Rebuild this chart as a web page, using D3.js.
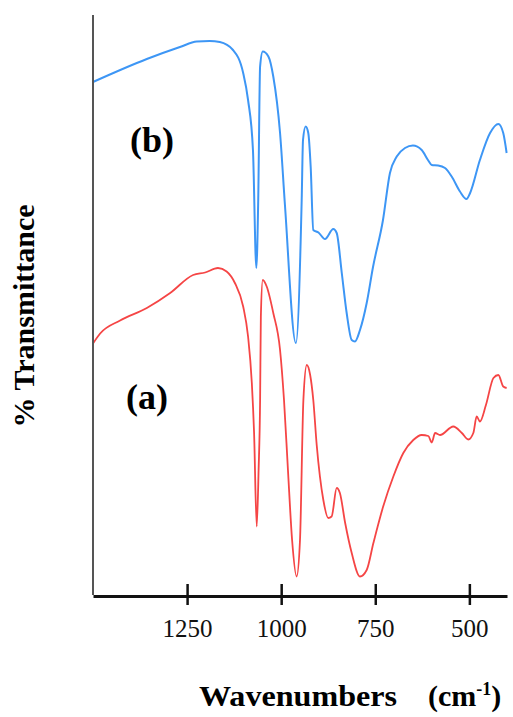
<!DOCTYPE html>
<html><head><meta charset="utf-8">
<script src="https://cdn.jsdelivr.net/npm/d3@7"></script>
<style>body{margin:0;background:#fff}svg{display:block}</style>
</head><body>
<script>
// Wavenumbers (cm-1) and transmittance (arbitrary units)
const waveB = [1500,1357,1269,1224,1190,1163,1128,1101,1088,1075,1066,1061,1056,1049,1034,1021,1003,990,961,945.5,942,935,928,921.6,914.7,901,883.6,861.5,852.5,839,826,812.6,804,790.6,772.8,756,729.5,711,693,671,650,626.6,610,600,583,564.7,547,525,507.6,498,472,445,423,410,401];
const transB = [102.6,107.2,109.6,110.7,110.8,110.6,109,104.4,99,89,65.4,79,105.7,108.7,107.7,103.7,92.4,78,50.4,79,91,93.7,92.4,85.6,73,72.5,71.2,73.2,72.4,64.4,56.4,51,50.7,53,58.4,65.6,75,84.4,87.7,89.4,89.9,89,87,86,85.9,85.4,83.7,80.7,79.2,80.4,87,92.4,94.2,92.4,88.4];
const waveA = [1500,1481,1428,1357,1295,1234,1202,1168,1145,1123,1101,1088,1078,1072,1065,1060,1056,1054,1049,1038.5,1021,1003,992.5,982,971,959,950,941,932,923,914.7,905.6,888,875,866,852.5,844,830,812.6,790.6,772.8,755,729,702,675.5,649,626.6,609,600,591,578,542.7,520,503,489.5,480.5,472,456,436,423,410,401];
const transA = [50.3,52.3,54.9,57.4,60.4,64,64.5,65.4,64.7,62.4,57.7,51.7,42.4,32.4,13.7,25,39,55.7,63,61.7,56.4,49,39,25,11,3.7,11,39,46,44,39,30,19,15.4,15.7,21.4,20.4,14.4,8.4,3.7,5,10.4,17.7,23.7,28.4,31,32,31.8,30.5,32.4,32,33.7,32.4,31.1,32.4,35.7,34.7,38,43.4,44,41.7,41.4];
const tickValues = [1250,1000,750,500];
const seriesLabels = ["(b)","(a)"];

const W = 513, H = 717;
const svg = d3.select("body").append("svg").attr("width", W).attr("height", H);
const x = d3.scaleLinear().domain([1500, 400]).range([93, 507]);
const y = d3.scaleLinear().domain([0, 116]).range([595, 15]);

const line = d3.line().x(d => x(d[0])).y(d => y(d[1])).curve(d3.curveMonotoneX);
const dataB = waveB.map((w, i) => [w, transB[i]]);
const dataA = waveA.map((w, i) => [w, transA[i]]);

svg.append("path").datum(dataB).attr("d", line).attr("fill", "none")
  .attr("stroke", "#3d96f5").attr("stroke-width", 2);
svg.append("path").datum(dataA).attr("d", line).attr("fill", "none")
  .attr("stroke", "#f54545").attr("stroke-width", 1.8);

// y axis line
svg.append("line").attr("x1", 93).attr("x2", 93).attr("y1", y(116)).attr("y2", y(0))
  .attr("stroke", "#555").attr("stroke-width", 2);

const serif = "Liberation Serif, Times New Roman, serif";

// x axis
const xAxis = d3.axisBottom(x).tickValues(tickValues).tickFormat(d3.format("d"))
  .tickSize(9).tickSizeOuter(0).tickPadding(14);
const gx = svg.append("g").attr("transform", "translate(0,596)").call(xAxis);
gx.select(".domain").attr("stroke", "#111").attr("stroke-width", 3);
gx.selectAll(".tick line").attr("stroke", "#111").attr("stroke-width", 2.5).attr("y1", -12);
gx.selectAll(".tick text").attr("font-family", serif)
  .attr("font-size", 25).attr("fill", "#111");

// axis titles
svg.append("text").attr("x", 199).attr("y", 706).attr("font-family", serif)
  .attr("font-weight", "bold").attr("font-size", 30)
  .attr("textLength", 198).attr("lengthAdjust", "spacingAndGlyphs").text("Wavenumbers");
const unit = svg.append("text").attr("x", 428).attr("y", 706).attr("font-family", serif)
  .attr("font-weight", "bold").attr("font-size", 30);
unit.append("tspan").text("(cm");
unit.append("tspan").attr("font-size", 18).attr("dy", -11).text("-1");
unit.append("tspan").attr("dy", 11).text(")");

svg.append("text").attr("transform", "translate(34,316) rotate(-90)")
  .attr("text-anchor", "middle").attr("font-family", serif)
  .attr("font-weight", "bold").attr("font-size", 30).text("% Transmittance");

// series labels
svg.append("text").attr("x", 152).attr("y", 152).attr("text-anchor", "middle")
  .attr("font-family", serif).attr("font-weight", "bold").attr("font-size", 36).text(seriesLabels[0]);
svg.append("text").attr("x", 147).attr("y", 409).attr("text-anchor", "middle")
  .attr("font-family", serif).attr("font-weight", "bold").attr("font-size", 36).text(seriesLabels[1]);
</script>
</body></html>
